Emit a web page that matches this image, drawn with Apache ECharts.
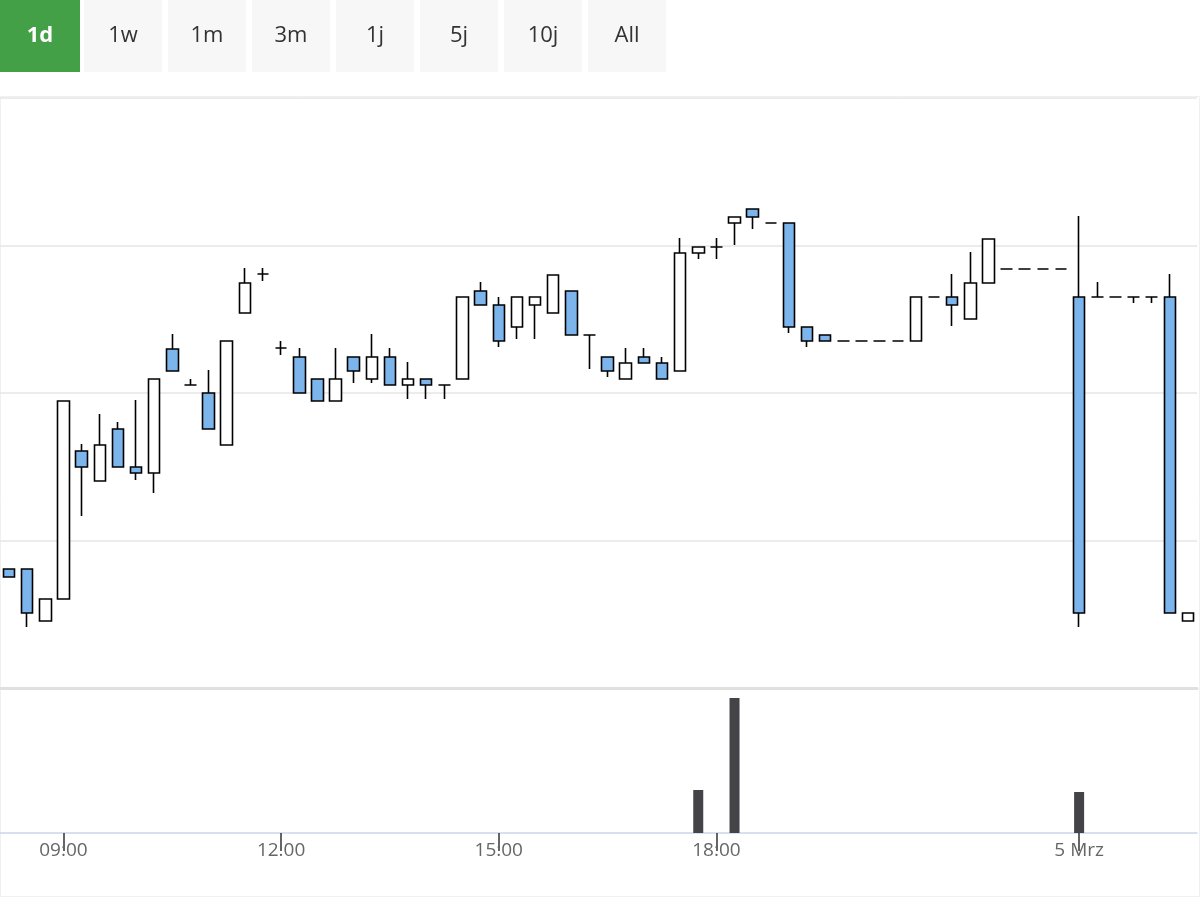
<!DOCTYPE html>
<html><head><meta charset="utf-8">
<script src="https://cdn.jsdelivr.net/npm/echarts@6/dist/echarts.min.js"></script>
<style>html,body{margin:0;padding:0;background:#fff}#c{width:1200px;height:900px}</style>
</head><body><div id="c"></div>
<script>
// OHLC values (chart units), one 15-minute bar per entry
const opens  = [119,119,67,89,237,207,259,221,215,339,303,295,243,375,414,340,331,309,287,331,309,331,303,309,303,309,397,383,361,383,375,397,353,331,309,331,325,317,435,441,465,479,465,465,361,353,347,347,347,347,347,391,391,369,405,419,419,419,419,391,391,391,391,391,391,67];
const closes = [111,75,89,287,221,243,221,215,309,317,303,259,347,405,414,340,295,287,309,317,331,303,309,303,303,391,383,347,391,391,413,353,353,317,325,325,309,435,441,441,471,471,465,361,347,347,347,347,347,347,391,391,383,405,449,419,419,419,419,75,391,391,391,391,75,75];
const lows   = [111,61,67,89,172,207,221,208,195,317,303,259,243,375,407,333,295,287,287,305,305,303,289,289,289,309,383,341,349,349,375,353,319,311,309,325,309,317,429,429,443,459,465,355,341,347,347,347,347,347,347,391,362,369,405,419,419,419,419,61,391,391,385,385,75,67];
const highs  = [119,119,89,287,244,274,266,288,309,354,309,318,347,420,420,347,340,309,340,331,354,340,326,309,303,391,406,391,391,391,413,397,353,331,340,340,331,450,441,450,471,479,465,465,361,353,347,347,347,347,391,391,414,436,449,419,419,419,419,472,406,391,391,391,414,75];
const volumes = [0,0,0,0,0,0,0,0,0,0,0,0,0,0,0,0,0,0,0,0,0,0,0,0,0,0,0,0,0,0,0,0,0,0,0,0,0,0,43,0,135,0,0,0,0,0,0,0,0,0,0,0,0,0,0,0,0,0,0,41,0,0,0,0,0,0];
const tickLabels = {3:'09:00',15:'12:00',27:'15:00',39:'18:00',59:'5 Mrz'};
const buttons = ['1d','1w','1m','3m','1j','5j','10j','All'];

const categories = opens.map((_, i) => String(i));
const ohlc = opens.map((o, i) => [o, closes[i], lows[i], highs[i]]);

const graphic = buttons.map((b, i) => ({
  type: 'group', left: i === 0 ? 0 : 84 * i, top: 0,
  children: [
    {type: 'rect', shape: {x: 0, y: 0, width: i === 0 ? 80 : 78, height: 72},
     style: {fill: i === 0 ? '#43a047' : '#f7f7f7'}},
    {type: 'text', style: {x: (i === 0 ? 40 : 39), y: 36, text: b, align: 'center', verticalAlign: 'middle',
      fill: i === 0 ? '#fff' : '#333', fontSize: 22, fontWeight: i === 0 ? 'bold' : 'normal',
      fontFamily: 'Open Sans'}}
  ]
}));
graphic.push({type: 'rect', shape: {x: 0.5, y: 96.5, width: 1199, height: 800}, style: {fill: 'none', stroke: '#f0f0f0', lineWidth: 1}, z: -1});

const chart = echarts.init(document.getElementById('c'));
chart.setOption({
  animation: false,
  backgroundColor: '#fff',
  graphic,
  grid: [
    {left: -4, right: 3, top: 98, bottom: 212},
    {left: -4, right: 3, top: 690, bottom: 67}
  ],
  xAxis: [
    {gridIndex: 0, type: 'category', data: categories, boundaryGap: true,
     axisLine: {show: true, lineStyle: {color: '#e0e0e0', width: 3}}, axisTick: {show: false}, axisLabel: {show: false}},
    {gridIndex: 1, type: 'category', data: categories, boundaryGap: true,
     axisLine: {show: true, lineStyle: {color: '#ccd6eb', width: 1.5}},
     axisTick: {show: true, alignWithLabel: true, length: 18, lineStyle: {color: '#333', width: 1.5},
       interval: (i) => tickLabels[i] !== undefined},
     axisLabel: {show: true, interval: (i) => tickLabels[i] !== undefined, formatter: (v, i) => tickLabels[i] || '',
       color: '#666', fontSize: 19, fontFamily: 'Open Sans', margin: 8}}
  ],
  yAxis: [
    {gridIndex: 0, type: 'value', min: 0, max: 590, interval: 147.5,
     axisLabel: {show: false}, axisLine: {show: false}, axisTick: {show: false},
     splitLine: {lineStyle: {color: '#e6e6e6', width: 1.5}}},
    {gridIndex: 1, type: 'value', min: 0, max: 143,
     axisLabel: {show: false}, axisLine: {show: false}, axisTick: {show: false}, splitLine: {show: false}}
  ],
  series: [
    {type: 'candlestick', xAxisIndex: 0, yAxisIndex: 0, data: ohlc, barWidth: 12,
     itemStyle: {color: '#ffffff', color0: '#7cb5ec', borderColor: '#000', borderColor0: '#000', borderWidth: 1.6}},
    {type: 'bar', xAxisIndex: 1, yAxisIndex: 1, data: volumes, barWidth: 10, itemStyle: {color: '#434348'}}
  ]
});
</script></body></html>
